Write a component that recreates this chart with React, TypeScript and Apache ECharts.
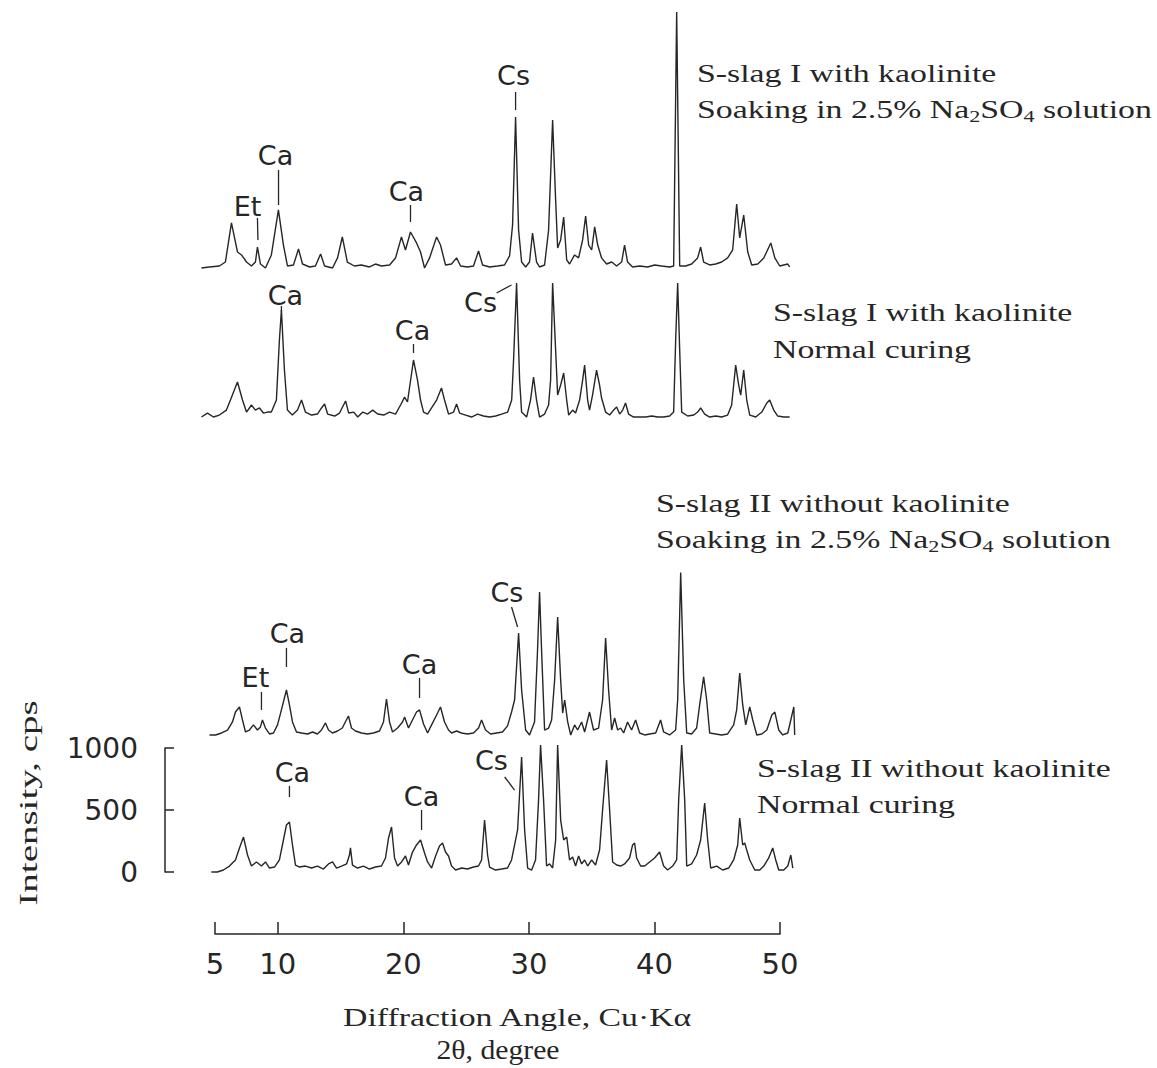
import React, { useEffect, useRef } from "react";
import * as echarts from "echarts";

// ---- axis ticks ----
const xTickValues = [5, 10, 20, 30, 40, 50];
const yTickValues = [0, 500, 1000];

// ---- trace names (top to bottom) ----
const traceNames = [
  "S-slag I with kaolinite, soaking in 2.5% Na2SO4",
  "S-slag I with kaolinite, normal curing",
  "S-slag II without kaolinite, soaking in 2.5% Na2SO4",
  "S-slag II without kaolinite, normal curing",
];
// baseline of each trace in the stacked plot (cps)
const traceOffsets = [4871, 3669, 1105, 0];

// ---- XRD traces: [2θ (deg), intensity above baseline (cps)] ----
const slagIKaoSoak: [number, number][] = [
  [3.92, 0], [4.55, 8], [5.35, 16], [5.83, 48], [6.31, 363], [6.79, 129], [7.11, 105], [7.51, 48], [7.9, 16],
  [8.22, 48], [8.38, 169], [8.62, 32], [9.02, 0], [9.49, 105], [10.05, 468], [10.45, 185], [10.77, 16],
  [11.25, 24], [11.65, 153], [11.97, 32], [12.53, 8], [13.0, 16], [13.41, 113], [13.73, 16], [14.36, 0],
  [14.76, 81], [15.14, 250], [15.54, 48], [16.1, 16], [16.66, 24], [17.3, 8], [17.78, 32], [18.26, 16],
  [18.9, 24], [19.38, 81], [19.85, 250], [20.17, 145], [20.57, 290], [21.05, 202], [21.37, 129], [21.69, 0],
  [22.09, 81], [22.65, 250], [22.96, 185], [23.36, 24], [23.84, 32], [24.24, 81], [24.56, 16], [25.11, 8],
  [25.59, 16], [25.99, 137], [26.31, 24], [26.87, 8], [27.5, 16], [28.06, 24], [28.46, 97], [28.7, 347],
  [28.94, 1218], [29.18, 306], [29.42, 48], [29.74, 8], [30.05, 48], [30.29, 282], [30.61, 48], [30.85, 8],
  [31.25, 24], [31.57, 306], [31.89, 1194], [32.13, 548], [32.29, 161], [32.53, 226], [32.77, 411],
  [33.01, 65], [33.24, 32], [33.64, 105], [33.96, 81], [34.28, 226], [34.52, 419], [34.76, 185], [35.0, 145],
  [35.24, 331], [35.48, 185], [35.79, 81], [36.19, 32], [36.59, 48], [36.99, 16], [37.39, 48], [37.62, 185],
  [37.86, 48], [38.26, 8], [38.82, 16], [39.46, 8], [40.01, 24], [40.57, 16], [41.21, 8], [41.53, 16],
  [41.77, 2065], [42.01, 16], [42.49, 16], [42.96, 32], [43.44, 81], [43.68, 169], [43.92, 48], [44.4, 24],
  [44.88, 32], [45.35, 48], [45.83, 81], [46.23, 145], [46.55, 516], [46.79, 242], [47.11, 427], [47.43, 129],
  [47.75, 24], [48.23, 32], [48.71, 81], [49.27, 202], [49.59, 81], [49.98, 16], [50.62, 32], [50.77, 8],
];

const slagIKaoNormal: [number, number][] = [
  [3.92, 0], [4.4, 32], [4.88, 0], [5.35, 16], [5.91, 56], [6.23, 137], [6.79, 282], [7.19, 137], [7.51, 40],
  [7.9, 97], [8.22, 56], [8.54, 73], [8.86, 32], [9.18, 40], [9.49, 40], [9.89, 137], [10.13, 621], [10.29, 863],
  [10.53, 379], [10.77, 56], [11.16, 16], [11.57, 56], [11.89, 137], [12.2, 40], [12.69, 16], [13.16, 24],
  [13.48, 73], [13.73, 105], [13.97, 24], [14.53, 8], [14.92, 32], [15.4, 129], [15.65, 32], [16.05, 40],
  [16.37, 0], [16.77, 40], [17.16, 24], [17.56, 56], [17.96, 24], [18.44, 16], [18.9, 40], [19.38, 24],
  [19.78, 97], [20.1, 161], [20.33, 121], [20.81, 460], [21.13, 298], [21.37, 137], [21.61, 40], [21.93, 24],
  [22.25, 73], [22.65, 137], [23.04, 234], [23.28, 137], [23.6, 24], [24.0, 40], [24.24, 105], [24.48, 32],
  [24.96, 16], [25.43, 0], [25.91, 24], [26.39, 8], [26.87, 0], [27.35, 8], [27.83, 24], [28.31, 40],
  [28.63, 137], [28.78, 460], [29.02, 1081], [29.26, 298], [29.42, 40], [29.82, 0], [30.13, 137], [30.37, 323],
  [30.61, 137], [30.85, 0], [31.25, 24], [31.57, 97], [31.73, 298], [31.89, 1081], [32.13, 540], [32.29, 177],
  [32.53, 258], [32.77, 355], [33.01, 137], [33.17, 16], [33.48, 56], [33.72, 32], [34.04, 137], [34.28, 298],
  [34.44, 419], [34.68, 137], [34.83, 56], [35.07, 177], [35.39, 379], [35.63, 258], [35.79, 153], [36.11, 40],
  [36.43, 16], [36.75, 56], [36.99, 81], [37.23, 24], [37.47, 56], [37.7, 113], [37.94, 24], [38.34, 0],
  [38.82, 0], [39.3, 0], [39.78, 8], [40.26, 0], [40.73, 0], [41.21, 8], [41.53, 40], [41.69, 621],
  [41.85, 1081], [42.01, 540], [42.17, 40], [42.65, 8], [43.13, 16], [43.44, 40], [43.68, 73], [44.0, 24],
  [44.4, 0], [44.88, 8], [45.35, 0], [45.83, 16], [46.15, 97], [46.47, 419], [46.71, 258], [46.87, 177],
  [47.11, 379], [47.35, 137], [47.59, 16], [48.07, 0], [48.55, 40], [48.95, 113], [49.18, 137], [49.5, 56],
  [49.82, 8], [50.3, 0], [50.77, 0],
];

const slagIINoKaoSoak: [number, number][] = [
  [4.56, 0], [5.04, 0], [5.52, 16], [6.0, 40], [6.39, 105], [6.63, 185], [6.95, 226], [7.19, 121], [7.43, 24],
  [7.74, 40], [8.06, 81], [8.38, 40], [8.62, 65], [8.78, 121], [9.02, 56], [9.34, 8], [9.66, 16], [9.98, 81],
  [10.29, 202], [10.69, 363], [10.93, 242], [11.17, 105], [11.49, 24], [11.89, 16], [12.37, 8], [12.77, 24],
  [13.16, 8], [13.48, 40], [13.8, 97], [14.04, 40], [14.36, 16], [14.76, 32], [15.14, 56], [15.38, 105],
  [15.63, 153], [15.87, 56], [16.19, 32], [16.66, 16], [17.14, 8], [17.62, 16], [18.1, 32], [18.42, 105],
  [18.66, 290], [18.9, 105], [19.14, 24], [19.54, 56], [19.94, 105], [20.1, 145], [20.41, 56], [20.73, 121],
  [21.05, 185], [21.29, 202], [21.61, 89], [21.93, 16], [22.25, 81], [22.65, 161], [22.96, 226], [23.28, 105],
  [23.6, 40], [23.84, 16], [24.24, 32], [24.64, 16], [25.11, 8], [25.59, 16], [25.99, 56], [26.23, 121],
  [26.55, 40], [26.95, 8], [27.43, 16], [27.9, 24], [28.3, 73], [28.62, 185], [28.86, 282], [29.18, 823],
  [29.42, 363], [29.74, 40], [30.05, 0], [30.45, 105], [30.69, 685], [30.85, 1153], [31.01, 685], [31.25, 40],
  [31.57, 56], [31.81, 121], [32.05, 444], [32.29, 952], [32.53, 444], [32.69, 177], [32.85, 282], [33.09, 105],
  [33.33, 0], [33.64, 81], [33.88, 40], [34.2, 105], [34.44, 24], [34.83, 185], [35.15, 40], [35.55, 56],
  [35.87, 282], [36.11, 782], [36.35, 363], [36.59, 40], [36.83, 137], [37.07, 40], [37.31, 56], [37.55, 16],
  [37.86, 105], [38.18, 40], [38.5, 121], [38.82, 16], [39.22, 0], [39.62, 8], [40.1, 16], [40.49, 121],
  [40.73, 24], [41.21, 0], [41.69, 40], [41.85, 282], [42.09, 1310], [42.33, 444], [42.57, 16], [42.96, 8],
  [43.36, 56], [43.6, 242], [43.92, 468], [44.16, 282], [44.4, 16], [44.88, 8], [45.35, 0], [45.83, 8],
  [46.31, 81], [46.55, 202], [46.79, 500], [47.03, 242], [47.27, 81], [47.59, 226], [47.83, 121], [48.15, 0],
  [48.55, 8], [48.95, 40], [49.35, 161], [49.59, 185], [49.9, 40], [50.22, 0], [50.62, 16], [50.86, 121],
  [51.1, 226], [51.17, 0],
];

const slagIINoKaoNormal: [number, number][] = [
  [4.71, 0], [5.19, 0], [5.67, 16], [6.15, 48], [6.63, 97], [6.95, 194], [7.27, 282], [7.59, 137], [7.9, 48],
  [8.3, 81], [8.7, 48], [9.02, 81], [9.34, 32], [9.74, 40], [10.13, 97], [10.45, 258], [10.69, 379], [10.93, 403],
  [11.17, 218], [11.41, 56], [11.73, 40], [12.2, 48], [12.69, 32], [13.16, 48], [13.64, 24], [14.04, 65],
  [14.36, 81], [14.68, 32], [15.08, 48], [15.48, 65], [15.71, 137], [15.79, 194], [15.95, 56], [16.35, 32],
  [16.83, 48], [17.3, 24], [17.78, 40], [18.26, 48], [18.58, 113], [18.82, 274], [19.06, 363], [19.3, 113],
  [19.54, 48], [19.86, 81], [20.17, 129], [20.41, 56], [20.73, 161], [21.05, 218], [21.37, 258], [21.69, 153],
  [21.93, 81], [22.25, 32], [22.57, 129], [22.88, 210], [23.12, 234], [23.36, 161], [23.6, 129], [23.84, 48],
  [24.16, 16], [24.64, 32], [25.11, 24], [25.59, 40], [25.99, 48], [26.23, 97], [26.47, 419], [26.71, 137],
  [26.87, 40], [27.35, 16], [27.83, 24], [28.3, 32], [28.62, 97], [28.86, 218], [29.1, 339], [29.42, 927],
  [29.66, 339], [29.9, 32], [30.22, 16], [30.53, 97], [30.77, 581], [30.93, 1024], [31.17, 581], [31.41, 48],
  [31.65, 65], [31.89, 32], [32.13, 258], [32.29, 1024], [32.53, 419], [32.77, 258], [33.01, 282], [33.24, 97],
  [33.48, 121], [33.72, 48], [33.96, 129], [34.2, 65], [34.44, 97], [34.68, 48], [35.0, 97], [35.31, 56],
  [35.63, 177], [35.87, 500], [36.19, 903], [36.43, 500], [36.67, 81], [36.99, 56], [37.31, 48], [37.62, 65],
  [38.02, 113], [38.26, 218], [38.42, 234], [38.58, 113], [38.9, 48], [39.22, 48], [39.62, 81], [40.01, 113],
  [40.41, 161], [40.73, 48], [41.05, 16], [41.45, 48], [41.77, 97], [41.93, 581], [42.17, 1024], [42.41, 581],
  [42.57, 48], [42.96, 65], [43.36, 137], [43.68, 258], [44.0, 556], [44.24, 258], [44.48, 32], [44.96, 48],
  [45.43, 16], [45.91, 32], [46.31, 97], [46.63, 218], [46.79, 435], [47.03, 218], [47.19, 234], [47.35, 177],
  [47.59, 97], [47.99, 16], [48.39, 16], [48.71, 48], [49.1, 113], [49.42, 194], [49.66, 97], [49.9, 16],
  [50.3, 16], [50.62, 48], [50.86, 137], [51.02, 32],
];

const traces = [slagIKaoSoak, slagIKaoNormal, slagIINoKaoSoak, slagIINoKaoNormal];

// ---- peak annotations ----
const annLabels = ["Et", "Ca", "Ca", "Cs", "Ca", "Ca", "Cs", "Et", "Ca", "Ca", "Cs", "Ca", "Ca", "Cs"];
const annTrace = [0, 0, 0, 0, 1, 1, 1, 2, 2, 2, 2, 3, 3, 3];
// leader line: [2θ start, cps start, 2θ end, cps end] (cps above the trace baseline)
const annLines: number[][] = [
  [8.42, 226, 8.38, 403], [10.06, 508, 10.06, 790], [20.57, 371, 20.57, 508], [28.94, 1274, 28.94, 1419],
  [10.29, 850, 10.29, 895], [20.81, 516, 20.81, 589], [27.43, 1000, 28.62, 1065],
  [8.7, 202, 8.7, 347], [10.69, 548, 10.69, 702], [21.29, 298, 21.29, 460], [29.1, 871, 28.62, 1032],
  [10.93, 605, 10.93, 694], [21.45, 339, 21.45, 500], [28.86, 661, 28.07, 766],
];
// label centre: [2θ, cps above baseline]
const annTextPos: number[][] = [
  [7.59, 492], [9.82, 911], [20.25, 613], [28.78, 1556],
  [10.61, 976], [20.73, 694], [26.15, 927],
  [8.22, 460], [10.77, 815], [21.29, 565], [28.25, 1145],
  [11.17, 806], [21.45, 605], [27.02, 903],
];

// ranges of the (hidden) data axes and the visible axes
const dataXRange = [3.5, 51.5];
const dataYRange = [-500, 7032];
const axisXRange = [5, 50];
const axisYRange = [0, 1000];

const SERIF = '"Liberation Serif", "Times New Roman", serif';
const SANS = '"DejaVu Sans", sans-serif';
const INK = "#262626";

function serifLine(x: number, y: number, text: string, extra: any = {}) {
  return {
    type: "text",
    x,
    y,
    scaleX: 1.3,
    silent: true,
    ...extra,
    style: {
      text,
      fontFamily: SERIF,
      fontSize: 26,
      fill: INK,
      align: "left",
      verticalAlign: "middle",
      rich: {
        sub: { fontFamily: SERIF, fontSize: 17, fill: INK, padding: [14, 0, 0, 0] },
      },
      ...(extra.style || {}),
    },
  };
}

const soakLine = "Soaking in 2.5% Na{sub|2}SO{sub|4} solution";

export default function App() {
  const ref = useRef<HTMLDivElement>(null);
  useEffect(() => {
    if (!ref.current) return;
    const chart = echarts.init(ref.current, null, { renderer: "svg" });

    const lineSeries = traces.map((tr, i) => ({
      type: "line",
      name: traceNames[i],
      xAxisIndex: 0,
      yAxisIndex: 0,
      data: tr.map((p) => [p[0], p[1] + traceOffsets[i]]),
      showSymbol: false,
      symbol: "none",
      clip: false,
      silent: true,
      lineStyle: { color: INK, width: 1.4 },
      z: 2,
    }));

    const annData = annLines.map((l, i) => {
      const off = traceOffsets[annTrace[i]];
      return [l[0], l[1] + off, l[2], l[3] + off, annTextPos[i][0], annTextPos[i][1] + off];
    });

    const annSeries = {
      type: "custom",
      xAxisIndex: 0,
      yAxisIndex: 0,
      silent: true,
      clip: false,
      encode: { x: [0, 2, 4], y: [1, 3, 5] },
      data: annData,
      renderItem: (params: any, api: any) => {
        const i = params.dataIndex;
        const p1 = api.coord([api.value(0), api.value(1)]);
        const p2 = api.coord([api.value(2), api.value(3)]);
        const pt = api.coord([api.value(4), api.value(5)]);
        return {
          type: "group",
          children: [
            {
              type: "line",
              shape: { x1: p1[0], y1: p1[1], x2: p2[0], y2: p2[1] },
              style: { stroke: INK, lineWidth: 1.3 },
            },
            {
              type: "text",
              x: pt[0],
              y: pt[1],
              style: {
                text: annLabels[i],
                fontFamily: SANS,
                fontSize: 27,
                fill: INK,
                align: "center",
                verticalAlign: "middle",
              },
            },
          ],
        };
      },
      z: 3,
    };

    // pixel geometry: 2θ=5 at x=215, 2θ=50 at x=780
    const pxPerDeg = (780 - 215) / (axisXRange[1] - axisXRange[0]);
    const dataLeft = 215 - (axisXRange[0] - dataXRange[0]) * pxPerDeg;
    const dataWidth = (dataXRange[1] - dataXRange[0]) * pxPerDeg;

    const option: any = {
      animation: false,
      backgroundColor: "#ffffff",
      grid: [
        { left: dataLeft, width: dataWidth, top: 0, height: 934, containLabel: false, outerBoundsMode: "none" },
        { left: 215, width: 565, top: 933, height: 1, containLabel: false, outerBoundsMode: "none" },
        { left: 165, top: 748, width: 10, height: 124, containLabel: false, outerBoundsMode: "none" },
      ],
      xAxis: [
        { type: "value", gridIndex: 0, min: dataXRange[0], max: dataXRange[1], show: false },
        {
          type: "value",
          gridIndex: 1,
          min: axisXRange[0],
          max: axisXRange[1],
          axisLine: { show: true, onZero: false, lineStyle: { color: INK, width: 1.5 } },
          axisTick: { show: true, inside: true, length: 12, customValues: xTickValues, lineStyle: { color: INK, width: 1.5 } },
          axisLabel: {
            show: true,
            customValues: xTickValues,
            margin: 15,
            fontFamily: SANS,
            fontSize: 29,
            color: INK,
          },
          splitLine: { show: false },
        },
        { type: "value", gridIndex: 2, min: 0, max: 1, show: false },
      ],
      yAxis: [
        { type: "value", gridIndex: 0, min: dataYRange[0], max: dataYRange[1], show: false },
        { type: "value", gridIndex: 1, min: 0, max: 1, show: false },
        {
          type: "value",
          gridIndex: 2,
          min: axisYRange[0],
          max: axisYRange[1],
          interval: 500,
          axisLine: { show: true, onZero: false, lineStyle: { color: INK, width: 1.5 } },
          axisTick: { show: true, inside: true, length: 9, lineStyle: { color: INK, width: 1.5 } },
          axisLabel: {
            show: true,
            margin: 27,
            fontFamily: SANS,
            fontSize: 28,
            color: INK,
            formatter: (v: number) => (yTickValues.indexOf(v) >= 0 ? String(v) : ""),
          },
          splitLine: { show: false },
        },
      ],
      graphic: [
        serifLine(697, 73, "S-slag I with kaolinite"),
        serifLine(697, 109, soakLine),
        serifLine(773, 312, "S-slag I with kaolinite"),
        serifLine(773, 349, "Normal curing"),
        serifLine(656, 503, "S-slag II without kaolinite"),
        serifLine(656, 539, soakLine),
        serifLine(757, 768, "S-slag II without kaolinite"),
        serifLine(757, 804, "Normal curing"),
        serifLine(343, 1017, "Diffraction Angle, Cu·Kα"),
        serifLine(498, 1050, "2θ, degree", { scaleX: 1.1, style: { align: "center", fontSize: 27 } }),
        serifLine(28, 803, "Intensity, cps", { rotation: Math.PI / 2, scaleX: 1.5, style: { align: "center" } }),
      ],
      series: [...lineSeries, annSeries],
    };

    chart.setOption(option);
    return () => chart.dispose();
  }, []);

  return (
    <div
      ref={ref}
      style={{ position: "absolute", left: 0, top: 0, width: 1157, height: 1068, background: "#fff" }}
    />
  );
}
